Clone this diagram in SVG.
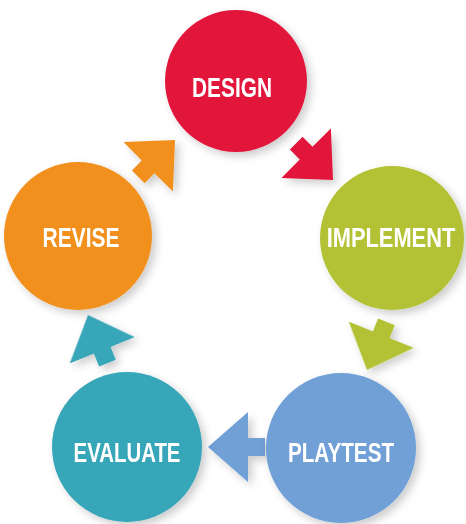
<svg xmlns="http://www.w3.org/2000/svg" width="466" height="524" viewBox="0 0 466 524">
  <defs>
    <filter id="sh" x="-20%" y="-20%" width="150%" height="150%">
      <feDropShadow dx="4" dy="4" stdDeviation="4" flood-color="#000" flood-opacity="0.2"/>
    </filter>
    <polygon id="arr" points="0,0 -38,-35 -38,-9 -52,-9 -52,9 -38,9 -38,35"/>
    <style>
      .lbl { font-family: "Liberation Sans", Arial, sans-serif; font-weight: bold; font-size: 28px; fill: #ffffff; text-anchor: middle; }
    </style>
  </defs>
  <rect width="466" height="524" fill="#ffffff"/>

  <g id="connectors" filter="url(#sh)">
    <use href="#arr" fill="#E2173A" transform="translate(333,180) rotate(45)"/>
    <use href="#arr" fill="#B3C235" transform="translate(367,370) rotate(112)"/>
    <g fill="#6FA0D6"><polygon points="208,447 248,412 248,438 265,438 265,456 248,456 248,482"/></g>
    <use href="#arr" fill="#38A6B9" transform="translate(88,315) rotate(-112)"/>
    <use href="#arr" fill="#F1901F" transform="translate(175,140) rotate(-45)"/>
  </g>

  <g id="design">
    <circle cx="236" cy="81" r="71" fill="#E2173A" filter="url(#sh)"/>
    <text class="lbl" transform="translate(232,97) scale(0.745,1)">DESIGN</text>
  </g>
  <g id="implement">
    <circle cx="392" cy="238" r="72" fill="#B3C235" filter="url(#sh)"/>
    <text class="lbl" transform="translate(391,247) scale(0.78,1)">IMPLEMENT</text>
  </g>
  <g id="playtest">
    <circle cx="341" cy="448" r="75" fill="#6FA0D6" filter="url(#sh)"/>
    <text class="lbl" transform="translate(341,462) scale(0.739,1)">PLAYTEST</text>
  </g>
  <g id="evaluate">
    <circle cx="127" cy="447" r="75" fill="#38A6B9" filter="url(#sh)"/>
    <text class="lbl" transform="translate(127,462) scale(0.729,1)">EVALUATE</text>
  </g>
  <g id="revise">
    <circle cx="78" cy="236" r="74" fill="#F1901F" filter="url(#sh)"/>
    <text class="lbl" transform="translate(81,247) scale(0.75,1)">REVISE</text>
  </g>
</svg>
